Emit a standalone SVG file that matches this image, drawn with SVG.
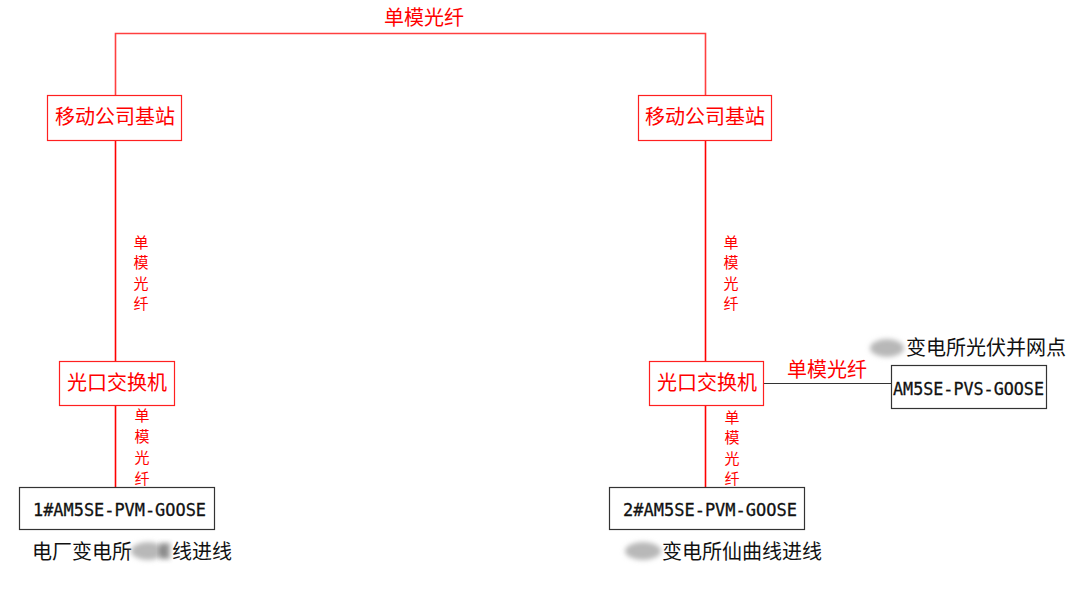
<svg xmlns="http://www.w3.org/2000/svg" width="1080" height="589" viewBox="0 0 1080 589">
<style>
.ln{stroke:#ff0000;stroke-width:1.6;fill:none}
.rb{fill:#ffffff;stroke:#ff2020;stroke-width:1.2}
.kb{fill:#ffffff;stroke:#333333;stroke-width:1.2}
.rt{font-family:"Noto Sans CJK SC","Liberation Sans",sans-serif;font-size:20px;fill:#ff0000}
.vt{font-family:"Noto Sans CJK SC","Liberation Sans",sans-serif;font-size:15px;fill:#ff0000;text-anchor:middle}
.kt{font-family:"Noto Sans CJK SC","Liberation Sans",sans-serif;font-size:20px;fill:#111111}
.mt{font-family:"DejaVu Sans Mono","Liberation Mono",monospace;font-size:17px;fill:#111111;stroke:#111111;stroke-width:0.3}
.blur{fill:#b8b8b8;filter:url(#bl)}
</style>
<defs>
<filter id="bl" x="-30%" y="-30%" width="160%" height="160%"><feGaussianBlur stdDeviation="2.5"/></filter>
</defs>
<g id="connectors">
<polyline class="ln" points="115.5,95 115.5,33.5 705.5,33.5 705.5,95" stroke-opacity="0.75"/>
<line class="ln" x1="115.5" y1="140" x2="115.5" y2="361"/>
<line class="ln" x1="115.5" y1="406" x2="115.5" y2="487"/>
<line class="ln" x1="705.5" y1="140" x2="705.5" y2="361"/>
<line class="ln" x1="705.5" y1="406" x2="705.5" y2="487"/>
<line x1="763" y1="383.5" x2="891" y2="383.5" stroke="#333333" stroke-width="1.2"/>
<text class="rt" x="424" y="25" text-anchor="middle">单模光纤</text>
<text class="rt" x="827" y="377" text-anchor="middle">单模光纤</text>
<text class="vt"><tspan x="141" y="248">单</tspan><tspan x="141" y="268">模</tspan><tspan x="141" y="289">光</tspan><tspan x="141" y="309">纤</tspan></text>
<text class="vt"><tspan x="142" y="421">单</tspan><tspan x="142" y="442">模</tspan><tspan x="142" y="463">光</tspan><tspan x="142" y="484">纤</tspan></text>
<text class="vt"><tspan x="731" y="248">单</tspan><tspan x="731" y="268">模</tspan><tspan x="731" y="289">光</tspan><tspan x="731" y="309">纤</tspan></text>
<text class="vt"><tspan x="732" y="423">单</tspan><tspan x="732" y="443">模</tspan><tspan x="732" y="464">光</tspan><tspan x="732" y="484">纤</tspan></text>
</g>
<g id="base-left">
<rect class="rb" x="47.5" y="95.5" width="134" height="45"/>
<text class="rt" x="115" y="124" text-anchor="middle">移动公司基站</text>
</g>
<g id="base-right">
<rect class="rb" x="638.5" y="95.5" width="133" height="45"/>
<text class="rt" x="705" y="124" text-anchor="middle">移动公司基站</text>
</g>
<g id="switch-left">
<rect class="rb" x="59.5" y="361.5" width="115" height="44"/>
<text class="rt" x="117" y="390" text-anchor="middle">光口交换机</text>
</g>
<g id="switch-right">
<rect class="rb" x="649.5" y="361.5" width="114" height="44"/>
<text class="rt" x="707" y="390" text-anchor="middle">光口交换机</text>
</g>
<g id="device-1">
<rect class="kb" x="19.5" y="487.5" width="195" height="42"/>
<text class="mt" x="33" y="516" textLength="173" lengthAdjust="spacingAndGlyphs">1#AM5SE-PVM-GOOSE</text>
<text class="kt" x="32" y="559">电厂变电所</text>
<text class="kt" x="172" y="559">线进线</text>
<ellipse class="blur" cx="148" cy="551" rx="17" ry="9"/>
<rect x="160" y="543" width="10" height="16" fill="#555555" opacity="0.6" filter="url(#bl)"/>
</g>
<g id="device-2">
<rect class="kb" x="609.5" y="487.5" width="195" height="42"/>
<text class="mt" x="623" y="516" textLength="174" lengthAdjust="spacingAndGlyphs">2#AM5SE-PVM-GOOSE</text>
<text class="kt" x="662" y="559">变电所仙曲线进线</text>
<ellipse class="blur" cx="643" cy="551" rx="18" ry="9"/>
</g>
<g id="device-pvs">
<text class="kt" x="906" y="355">变电所光伏并网点</text>
<ellipse class="blur" cx="887" cy="348" rx="17" ry="9"/>
<rect class="kb" x="891.5" y="365.5" width="155" height="43"/>
<text class="mt" x="893" y="395" textLength="151" lengthAdjust="spacingAndGlyphs">AM5SE-PVS-GOOSE</text>
</g>
</svg>
